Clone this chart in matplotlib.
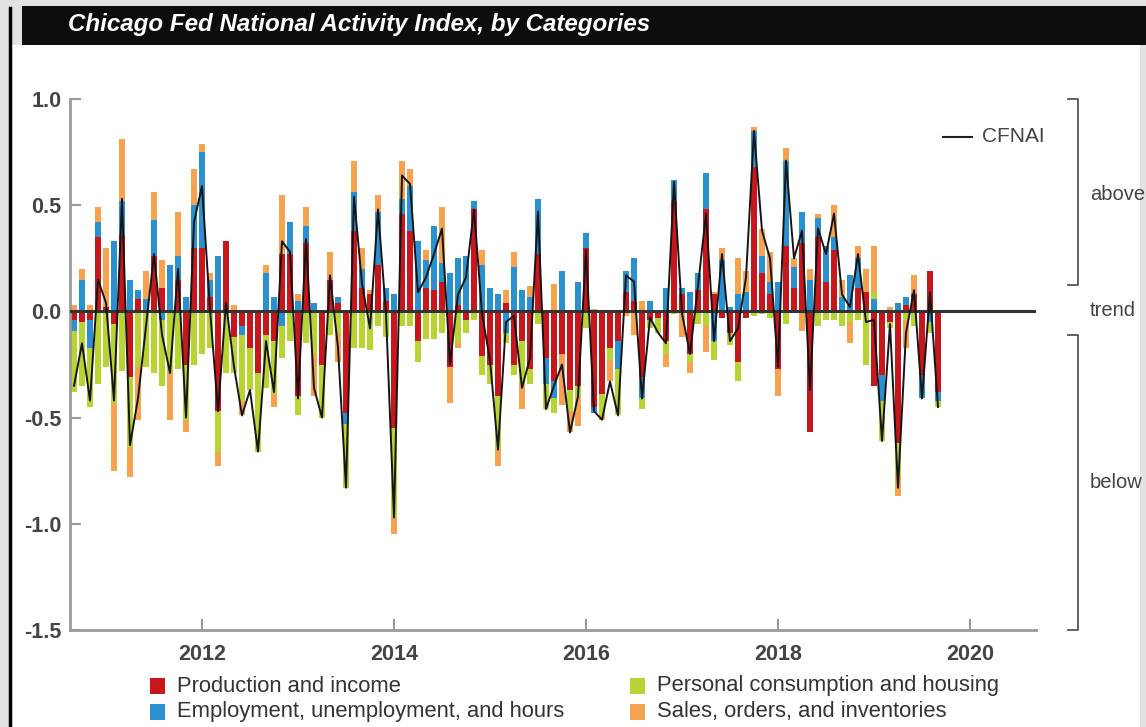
import matplotlib.pyplot as plt
from matplotlib.patches import Rectangle
from matplotlib.lines import Line2D
import numpy as np

plt.rcParams['font.family'] = ['Liberation Sans', 'DejaVu Sans']

W, H = 1146, 727

# monthly contributions to the CFNAI, Sep 2010 .. Sep 2019
start_year = 2010 + 8 / 12
production = [-0.04, -0.05, -0.04, 0.35, 0.02, -0.06, 0.36, -0.31, 0.06, 0.00,
              0.26, 0.11, 0.00, 0.15, -0.25, 0.30, 0.30, 0.07, -0.47, 0.33,
              -0.12, -0.07, -0.17, -0.29, -0.11, -0.14, 0.27, 0.27, -0.40, 0.32,
              0.00, -0.25, 0.15, 0.04, -0.48, 0.38, 0.11, 0.08, 0.22, 0.05,
              -0.55, 0.46, 0.38, -0.14, 0.11, 0.10, 0.14, -0.26, 0.03, -0.04,
              0.48, -0.21, -0.25, -0.40, 0.04, -0.25, -0.14, -0.27, 0.27, -0.22,
              -0.33, -0.20, -0.37, -0.35, 0.30, -0.45, -0.39, -0.17, -0.14, 0.09,
              0.05, -0.31, -0.04, -0.03, -0.14, 0.52, 0.08, -0.20, 0.10, 0.48,
              0.08, -0.03, -0.10, -0.24, -0.03, 0.68, 0.18, 0.08, -0.27, 0.31,
              0.11, 0.32, -0.57, 0.35, 0.14, 0.29, 0.00, 0.00, 0.11, 0.09,
              -0.35, -0.30, -0.05, -0.62, 0.03, 0.08, -0.30, 0.19, -0.38]
employment = [-0.05, 0.15, -0.13, 0.07, 0.00, 0.33, 0.16, 0.15, 0.04, 0.06,
              0.17, -0.04, 0.22, 0.11, 0.07, 0.20, 0.45, 0.08, 0.26, 0.00,
              0.00, -0.04, 0.00, 0.00, 0.18, 0.07, -0.07, 0.15, 0.05, 0.08,
              0.04, 0.00, 0.00, 0.03, -0.05, 0.18, 0.09, 0.00, 0.25, 0.06,
              0.08, 0.07, 0.21, 0.33, 0.13, 0.30, 0.09, 0.18, 0.22, 0.26,
              0.04, 0.22, 0.11, 0.08, -0.10, 0.21, 0.10, 0.07, 0.26, -0.12,
              -0.08, 0.19, 0.00, 0.14, 0.07, -0.03, 0.00, 0.00, -0.13, 0.10,
              0.20, -0.10, 0.05, 0.00, 0.11, 0.10, 0.03, 0.09, 0.08, 0.17,
              -0.14, 0.24, 0.02, 0.08, 0.09, 0.17, 0.08, 0.06, 0.14, 0.40,
              0.10, 0.15, 0.15, 0.09, 0.17, 0.06, 0.07, 0.17, 0.14, 0.00,
              0.06, -0.12, 0.00, 0.04, 0.04, 0.00, -0.11, -0.05, -0.04]
consumption = [-0.29, -0.30, -0.28, -0.34, -0.26, -0.37, -0.28, -0.33, -0.26, -0.26,
               -0.29, -0.31, -0.29, -0.27, -0.26, -0.25, -0.20, -0.17, -0.19, -0.29,
               -0.17, -0.31, -0.20, -0.37, -0.25, -0.25, -0.15, -0.14, -0.09, -0.15,
               -0.20, -0.25, -0.11, -0.10, -0.30, -0.17, -0.17, -0.18, -0.07, -0.12,
               -0.42, -0.07, -0.07, -0.10, -0.13, -0.13, -0.10, 0.00, -0.15, -0.06,
               -0.04, -0.09, -0.09, -0.25, -0.05, -0.05, -0.20, -0.07, -0.06, -0.12,
               -0.07, 0.00, -0.10, -0.05, -0.08, 0.00, -0.10, -0.06, -0.22, 0.00,
               0.00, -0.05, -0.04, -0.07, -0.06, -0.01, 0.00, -0.04, -0.06, -0.07,
               -0.09, 0.00, -0.06, -0.09, 0.00, -0.02, -0.01, -0.03, 0.00, -0.06,
               0.00, 0.00, 0.00, -0.07, -0.04, -0.04, -0.07, -0.05, -0.04, -0.25,
               0.03, -0.19, -0.03, -0.15, -0.04, -0.07, 0.00, -0.05, -0.03]
sales = [0.03, 0.05, 0.03, 0.07, 0.28, -0.32, 0.29, -0.14, -0.25, 0.13,
         0.13, 0.13, -0.22, 0.21, -0.06, 0.17, 0.04, 0.03, -0.07, 0.00,
         0.03, -0.07, 0.00, 0.00, 0.04, -0.06, 0.28, 0.00, 0.03, 0.09,
         -0.20, 0.00, 0.13, -0.14, 0.00, 0.15, 0.10, 0.02, 0.08, 0.00,
         -0.08, 0.18, 0.08, 0.00, 0.05, 0.00, 0.26, -0.17, -0.02, 0.00,
         0.00, 0.07, 0.00, -0.08, 0.06, 0.07, -0.12, 0.05, 0.00, 0.00,
         0.13, -0.24, -0.10, -0.14, 0.00, 0.01, -0.02, -0.10, 0.00, -0.02,
         -0.11, 0.05, 0.00, 0.00, -0.06, 0.00, -0.12, -0.05, 0.00, -0.12,
         0.01, 0.06, 0.00, 0.17, 0.10, 0.02, 0.13, 0.14, -0.13, 0.06,
         0.04, -0.09, 0.05, 0.02, 0.00, 0.15, 0.08, -0.10, 0.06, 0.11,
         0.22, 0.00, 0.02, -0.10, -0.13, 0.09, 0.00, 0.00, 0.00]

labels = ['Production and income', 'Employment, unemployment, and hours',
          'Personal consumption and housing', 'Sales, orders, and inventories']
colors = ['#c8161d', '#2b90d0', '#b7d433', '#f7a24e']
series = [production, employment, consumption, sales]

months = start_year + np.arange(len(production)) / 12
cfnai = np.sum(series, axis=0)

fig = plt.figure(figsize=(W / 100, H / 100), dpi=100, facecolor='#e2e2e2')


def fx(x):
    return x / W


def fy(y):
    return 1 - y / H


# page panel, border and title bar
fig.patches.append(Rectangle((fx(12), 0), fx(1140) - fx(12), fy(45), transform=fig.transFigure,
                             facecolor='white', edgecolor='none', zorder=-2))
fig.lines.append(Line2D([fx(10), fx(10)], [0, fy(8)], transform=fig.transFigure, color='black', lw=2.5))
fig.patches.append(Rectangle((fx(22), fy(45)), 1 - fx(22), fy(6) - fy(45), transform=fig.transFigure,
                             facecolor='#0d0d0d', edgecolor='none', zorder=1))
fig.text(fx(68), fy(25), 'Chicago Fed National Activity Index, by Categories', color='white',
         fontsize=17.4, fontweight='bold', style='italic', va='center',
         family=['Liberation Sans Narrow', 'Liberation Sans', 'DejaVu Sans'])

ax = fig.add_axes([fx(70), fy(630), fx(1036) - fx(70), fy(99) - fy(630)])
ax.set_facecolor('none')

pos_bottom = np.zeros(len(months))
neg_bottom = np.zeros(len(months))
for vals, c in zip(series, colors):
    v = np.array(vals)
    pos = np.where(v > 0, v, 0)
    neg = np.where(v < 0, v, 0)
    ax.bar(months, pos, bottom=pos_bottom, width=0.8 / 12, color=c, linewidth=0, zorder=2)
    ax.bar(months, neg, bottom=neg_bottom, width=0.8 / 12, color=c, linewidth=0, zorder=2)
    pos_bottom += pos
    neg_bottom += neg

ax.axhline(0, color='#333333', lw=2.2, zorder=3)
ax.plot(months, cfnai, color='#151515', lw=1.4, zorder=4)

ax.set_xlim(2010.625, 2020.6875)
ax.set_ylim(-1.5, 1.0)
ax.set_xticks([2012, 2014, 2016, 2018, 2020])
ax.set_yticks([-1.5, -1.0, -0.5, 0.0, 0.5, 1.0])
ax.set_yticklabels(['%.1f' % t for t in ax.get_yticks()])
for s in ['top', 'right']:
    ax.spines[s].set_visible(False)
for s in ['left', 'bottom']:
    ax.spines[s].set_color('#9a9a9a')
    ax.spines[s].set_linewidth(2)
ax.tick_params(direction='in', length=8, width=1.5, color='#9a9a9a',
               labelcolor='#444444', labelsize=15.5)
ax.tick_params(axis='y', pad=6)
ax.tick_params(axis='x', pad=10)
for t in ax.get_xticklabels() + ax.get_yticklabels():
    t.set_fontweight('bold')

# CFNAI key
fig.lines.append(Line2D([fx(943), fx(972)], [fy(137), fy(137)], transform=fig.transFigure,
                        color='#222222', lw=1.5))
fig.text(fx(982), fy(137), 'CFNAI', fontsize=15, color='#444444', va='center')

# brackets on the right
for top, bot in [(99, 285), (335, 630)]:
    fig.lines.append(Line2D([fx(1068), fx(1078), fx(1078), fx(1068)], [fy(top), fy(top), fy(bot), fy(bot)],
                            transform=fig.transFigure, color='#555555', lw=1.3))
for label, y in [('above', 195), ('trend', 311), ('below', 482)]:
    fig.text(fx(1090), fy(y), label, fontsize=14.5, color='#444444', va='center')

# category legend
for i, (label, c) in enumerate(zip(labels, colors)):
    col, row = i // 2, i % 2
    x0 = [150, 630][col]
    y0 = [686, 712][row]
    fig.patches.append(Rectangle((fx(x0), fy(y0 + 8)), fx(15), fy(0) - fy(16), transform=fig.transFigure,
                                 facecolor=c, edgecolor='none'))
    fig.text(fx(x0 + 27), fy(y0), label, fontsize=15.8, color='#333333', va='center')

fig.savefig('out.png', dpi=100, facecolor=fig.get_facecolor())
